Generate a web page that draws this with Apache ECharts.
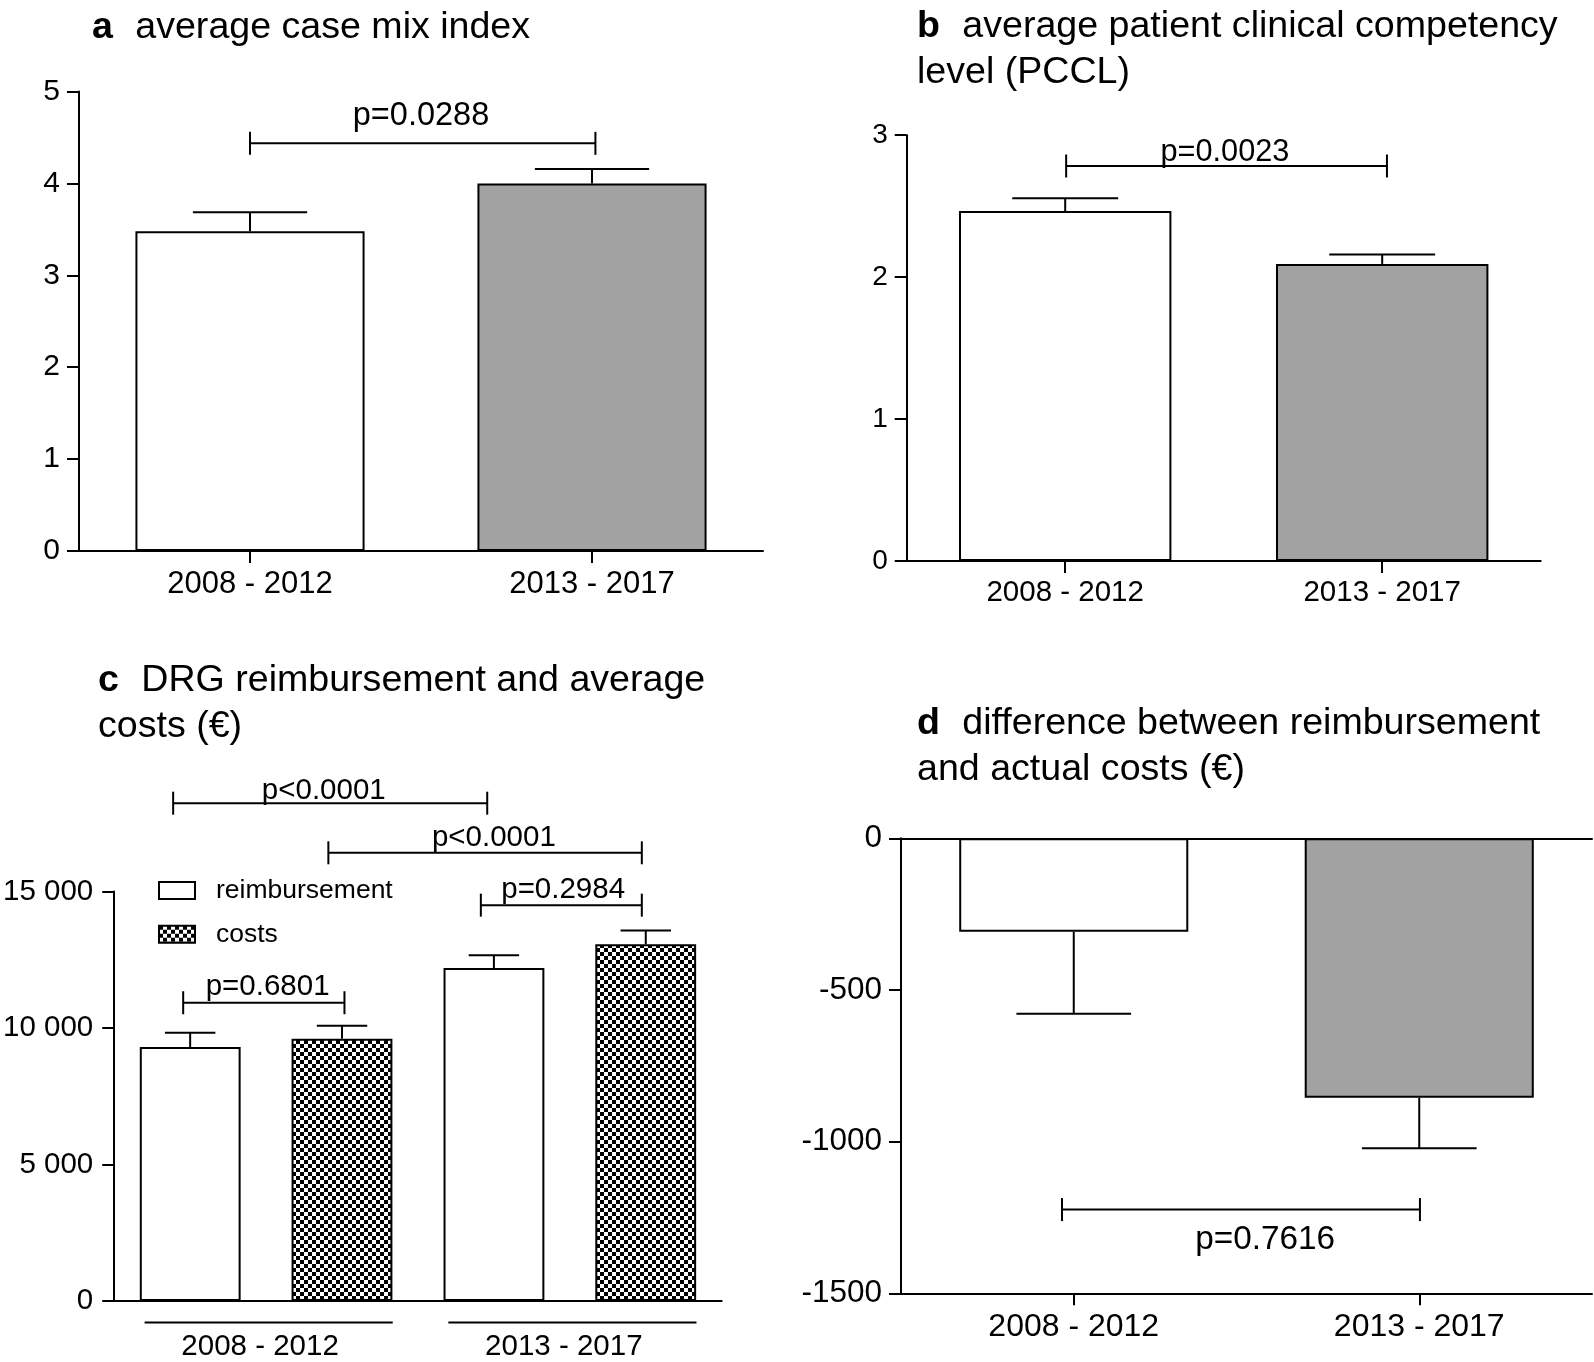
<!DOCTYPE html>
<html>
<head>
<meta charset="utf-8">
<script src="https://cdn.jsdelivr.net/npm/echarts@6/dist/echarts.min.js"></script>
<style>
html,body{margin:0;padding:0;background:#fff;}
#chart{width:1594px;height:1362px;}
</style>
</head>
<body>
<div id="chart"></div>
<script>
// ---------------- data ----------------
const periods = ['2008 - 2012', '2013 - 2017'];
const cmiMean = [3.48, 4.00];
const cmiErr = [0.206, 0.157];
const pcclMean = [2.466, 2.093];
const pcclErr = [0.089, 0.066];
const reimbMean = [9306, 12195];
const reimbErr = [521, 470];
const costMean = [9608, 13068];
const costErr = [471, 504];
const diffMean = [-308, -855];
const diffErr = [270, 167];
// brackets: [from, to, level, label position, label]  (x in category units)
const bracketsA = [[0.5, 1.51, 4.436, 1.0, 'p=0.0288']];
const bracketsB = [[0.503, 1.515, 2.783, 1.004, 'p=0.0023']];
const bracketsC = [
  [0.194, 1.228, 18235, 0.690, 'p<0.0001'],
  [0.705, 1.737, 16418, 1.250, 'p<0.0001'],
  [1.207, 1.737, 14500, 1.478, 'p=0.2984'],
  [0.227, 0.758, 10925, 0.505, 'p=0.6801']
];
const bracketsD = [[0.466, 1.502, -1224, 1.054, 'p=0.7616']];
const titles = [
  ['a', 'average case mix index'],
  ['b', 'average patient clinical competency\nlevel (PCCL)'],
  ['c', 'DRG reimbursement and average\ncosts (€)'],
  ['d', 'difference between reimbursement\nand actual costs (€)']
];

// ---------------- style ----------------
const FONT = "'Liberation Sans', Arial, Helvetica, sans-serif";
const GREY = '#a2a2a2';
const pat = document.createElement('canvas');
pat.width = 8; pat.height = 8;
(function(){
  const c = pat.getContext('2d');
  c.fillStyle = '#fff'; c.fillRect(0,0,8,8);
  c.fillStyle = '#000'; c.fillRect(0,0,4,4); c.fillRect(4,4,4,4);
})();
const checker = {image: pat, repeat: 'repeat'};

const chart = echarts.init(document.getElementById('chart'), null, {renderer: 'canvas'});

function catAxis(grid, fs, margin, showTick, labelExtra) {
  return {
    type: 'category', gridIndex: grid, data: periods, position: 'bottom',
    axisLine: {show: true, onZero: false, lineStyle: {color: '#000', width: 2}},
    axisTick: {show: showTick, alignWithLabel: true, length: 12, lineStyle: {color: '#000', width: 2}},
    axisLabel: Object.assign({color: '#000', fontSize: fs, fontFamily: FONT, margin: margin}, labelExtra || {}),
    splitLine: {show: false}
  };
}
function hidAxis(grid, extra) {
  return Object.assign({type: 'value', gridIndex: grid, min: 0, max: 2, show: false, position: 'top'}, extra || {});
}
function valAxis(grid, min, max, interval, fs, margin, fmt) {
  return {
    type: 'value', gridIndex: grid, min: min, max: max, interval: interval,
    axisLine: {show: true, onZero: false, lineStyle: {color: '#000', width: 2}},
    axisTick: {show: true, length: 12, lineStyle: {color: '#000', width: 2}},
    axisLabel: {color: '#000', fontSize: fs, fontFamily: FONT, margin: margin, formatter: fmt},
    splitLine: {show: false}
  };
}

function errSeries(xAxisIndex, yAxisIndex, centers, means, errs, capHalf) {
  const data = means.map((m, i) => [centers[i], m, m + (m < 0 ? -errs[i] : errs[i])]);
  return {
    type: 'custom', xAxisIndex: xAxisIndex, yAxisIndex: yAxisIndex, z: 5, clip: false, silent: true,
    data: data, encode: {x: 0, y: [1, 2]},
    renderItem: function(params, api) {
      const x = api.value(0);
      const p0 = api.coord([x, api.value(1)]);
      const p1 = api.coord([x, api.value(2)]);
      const hw = api.size([capHalf, 0])[0];
      const st = {stroke: '#000', lineWidth: 2};
      return {type: 'group', children: [
        {type: 'line', shape: {x1: p0[0], y1: p0[1], x2: p1[0], y2: p1[1]}, style: st},
        {type: 'line', shape: {x1: p1[0] - hw, y1: p1[1], x2: p1[0] + hw, y2: p1[1]}, style: st}
      ]};
    }
  };
}

function bracketSeries(xAxisIndex, yAxisIndex, list, fs, dys) {
  return {
    type: 'custom', xAxisIndex: xAxisIndex, yAxisIndex: yAxisIndex, z: 6, clip: false, silent: true,
    data: list.map(b => [b[0], b[1], b[2], b[3]]), encode: {x: [0, 1, 3], y: 2},
    renderItem: function(params, api) {
      const b = list[params.dataIndex];
      const dy = dys[params.dataIndex];
      const a = api.coord([b[0], b[2]]);
      const c = api.coord([b[1], b[2]]);
      const l = api.coord([b[3], b[2]]);
      const st = {stroke: '#000', lineWidth: 2};
      const h = 11.5;
      return {type: 'group', children: [
        {type: 'line', shape: {x1: a[0], y1: a[1], x2: c[0], y2: c[1]}, style: st},
        {type: 'line', shape: {x1: a[0], y1: a[1] - h, x2: a[0], y2: a[1] + h}, style: st},
        {type: 'line', shape: {x1: c[0], y1: c[1] - h, x2: c[0], y2: c[1] + h}, style: st},
        {type: 'text', style: {text: b[4], x: l[0], y: l[1] + dy, align: 'center', verticalAlign: 'middle',
          fill: '#000', fontSize: fs, fontFamily: FONT}}
      ]};
    }
  };
}

const barStyle = {borderColor: '#000', borderWidth: 2};
function fills(vals, colors) {
  return vals.map((v, i) => ({value: v, itemStyle: {color: colors[i]}}));
}

const titleGraphics = titles.map((t, i) => {
  const pos = [[92, 5], [917, 4], [98, 658], [917, 701]][i];
  return {
    type: 'text', x: pos[0], y: pos[1], silent: true,
    style: {
      text: '{b|' + t[0] + '}  ' + t[1], fill: '#000', fontSize: 37.6, fontFamily: FONT, lineHeight: 46,
      verticalAlign: 'top', align: 'left',
      rich: {b: {fontWeight: 'bold', fontSize: 37.6, fontFamily: FONT, lineHeight: 46, fill: '#000', padding: [0, 1.5, 0, 0]}}
    }
  };
});

const noSep = function(v){ return String(v); };
const spaceSep = function(v){ return v === 0 ? '0' : String(v).replace(/\B(?=(\d{3})+(?!\d))/g, ' '); };

const option = {
  animation: false,
  backgroundColor: '#fff',
  textStyle: {fontFamily: FONT},
  grid: [
    {left: 79, top: 91.5, width: 684, height: 459.5},
    {left: 906.7, top: 135.2, width: 634, height: 425.8},
    {left: 103.3, top: 891.5, width: 618.4, height: 411.8},
    {left: 901, top: 838.3, width: 691, height: 455}
  ],
  xAxis: [
    catAxis(0, 31, 18, true),
    hidAxis(0),
    catAxis(1, 29.5, 17, true),
    hidAxis(1),
    catAxis(2, 29.5, 31, false, {padding: [0, 12, 0, 0]}),
    hidAxis(2),
    catAxis(3, 32, 18, true),
    hidAxis(3, {show: true, axisLine: {show: true, onZero: false, lineStyle: {color: '#000', width: 2}},
      axisTick: {show: false}, axisLabel: {show: false}, splitLine: {show: false}})
  ],
  yAxis: [
    valAxis(0, 0, 5, 1, 30, 19, noSep),
    valAxis(1, 0, 3, 1, 28, 19, noSep),
    valAxis(2, 0, 15000, 5000, 29.5, 21, spaceSep),
    valAxis(3, -1500, 0, 500, 31.5, 19, noSep)
  ],
  legend: {
    data: [{name: 'reimbursement'}, {name: 'costs'}],
    orient: 'vertical', left: 158, top: 877, padding: 0,
    itemWidth: 36, itemHeight: 17, itemGap: 16.7, icon: 'rect',
    selectedMode: false,
    textStyle: {color: '#000', fontSize: 26.5, fontFamily: FONT, padding: [0, 0, 0, 16]}
  },
  graphic: titleGraphics,
  series: [
    {type: 'bar', xAxisIndex: 0, yAxisIndex: 0, barWidth: '67%', itemStyle: barStyle,
      data: fills(cmiMean, ['#fff', GREY])},
    errSeries(1, 0, [0.5, 1.5], cmiMean, cmiErr, 0.167),
    bracketSeries(1, 0, bracketsA, 32.5, [-27]),

    {type: 'bar', xAxisIndex: 2, yAxisIndex: 1, barWidth: '67%', itemStyle: barStyle,
      data: fills(pcclMean, ['#fff', GREY])},
    errSeries(3, 1, [0.5, 1.5], pcclMean, pcclErr, 0.167),
    bracketSeries(3, 1, bracketsB, 30.7, [-13]),

    {name: 'reimbursement', type: 'bar', xAxisIndex: 4, yAxisIndex: 2, barWidth: '33.2%', barGap: '50.5%',
      itemStyle: {color: '#fff', borderColor: '#000', borderWidth: 2}, data: reimbMean},
    {name: 'costs', type: 'bar', xAxisIndex: 4, yAxisIndex: 2, barWidth: '33.2%', barGap: '50.5%',
      itemStyle: {color: checker, borderColor: '#000', borderWidth: 2}, data: costMean},
    errSeries(5, 2, [0.25, 1.25], reimbMean, reimbErr, 0.083),
    errSeries(5, 2, [0.75, 1.75], costMean, costErr, 0.083),
    bracketSeries(5, 2, bracketsC, 29.5, [-12, -15, -15, -16]),

    {type: 'bar', xAxisIndex: 6, yAxisIndex: 3, barWidth: '66.3%', itemStyle: barStyle,
      data: fills(diffMean, ['#fff', GREY])},
    errSeries(7, 3, [0.5, 1.5], diffMean, diffErr, 0.166),
    bracketSeries(7, 3, bracketsD, 33.3, [30])
  ]
};
chart.setOption(option);

// group underlines below the x axis of panel c, positioned through the axis scales
const underlines = periods.map((p, i) => {
  const a = chart.convertToPixel({xAxisIndex: 5, yAxisIndex: 2}, [i + 0.1, 0]);
  const b = chart.convertToPixel({xAxisIndex: 5, yAxisIndex: 2}, [i + 0.917, 0]);
  return {type: 'line', silent: true, shape: {x1: a[0], y1: a[1] + 21.5, x2: b[0], y2: b[1] + 21.5},
    style: {stroke: '#000', lineWidth: 2}};
});
chart.setOption({graphic: titleGraphics.concat(underlines)});
</script>
</body>
</html>
